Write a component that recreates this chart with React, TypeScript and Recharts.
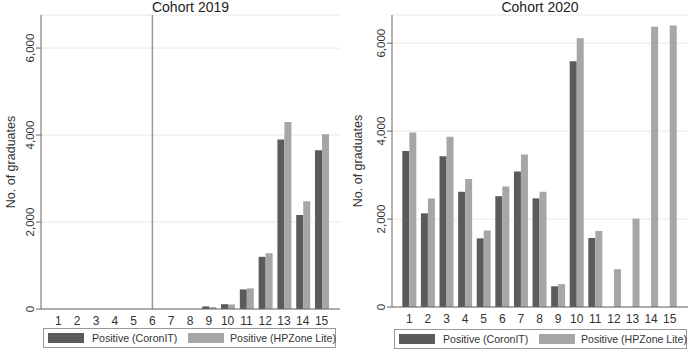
import { BarChart, Bar, XAxis, YAxis, CartesianGrid, ReferenceLine } from 'recharts'

const cats = ['1', '2', '3', '4', '5', '6', '7', '8', '9', '10', '11', '12', '13', '14', '15']

const coronit2019 = [0, 0, 0, 0, 0, 0, 0, 0, 60, 110, 450, 1200, 3900, 2160, 3650]
const hpzone2019 = [0, 0, 0, 0, 0, 0, 0, 0, 45, 105, 475, 1280, 4300, 2480, 4020]

const coronit2020 = [3550, 2130, 3430, 2620, 1560, 2520, 3080, 2470, 470, 5590, 1570, 0, 0, 0, 0]
const hpzone2020 = [3970, 2470, 3870, 2910, 1740, 2740, 3470, 2620, 520, 6110, 1730, 860, 2010, 6370, 6400]

const yTicks = [0, 2000, 4000, 6000]

const DARK = '#5b5b5b'
const LIGHT = '#a6a6a6'
const FONT = '"Liberation Sans", Arial, sans-serif'

const build = (a: number[], b: number[]) =>
  cats.map((c, i) => ({ cat: c, coronit: a[i], hpzone: b[i] }))

const fmt = (v: number) => v.toLocaleString('en-US')

function YTick({ x, y, payload }: any) {
  return (
    <text x={x} y={y} transform={`rotate(-90 ${x} ${y})`} textAnchor="middle"
      fontSize={11.5} fill="#333" fontFamily={FONT}>
      {fmt(payload.value)}
    </text>
  )
}

const yTitle = (tx: number) => ({ viewBox }: any) => {
  const cy = viewBox.y + viewBox.height / 2
  return (
    <text x={tx} y={cy} transform={`rotate(-90 ${tx} ${cy})`} textAnchor="middle"
      fontSize={12.5} fill="#333" fontFamily={FONT}>
      No. of graduates
    </text>
  )
}

interface PanelProps {
  title: string
  data: { cat: string; coronit: number; hpzone: number }[]
  left: number
  width: number
  margin: { top: number; right: number; left: number; bottom: number }
  yMax: number
  gap: string
  titleX: number
  refLine?: string
  legend: { box: [number, number]; top: number }
}

function Panel({ title, data, left, width, margin, yMax, gap, titleX, refLine, legend }: PanelProps) {
  const plotLeft = margin.left + 41
  const plotRight = width - margin.right
  const YTitle = yTitle(titleX)
  return (
    <div style={{ position: 'absolute', left, top: 0, width, height: 350 }}>
      <BarChart width={width} height={350} data={data} margin={margin}
        barCategoryGap={gap} barGap={0}>
        <CartesianGrid vertical={false} stroke="#e8e8e8" />
        <XAxis dataKey="cat" tickLine={false} tickSize={0} tickMargin={7} height={24}
          axisLine={{ stroke: '#666' }} interval={0}
          tick={{ fontSize: 12, fill: '#333', fontFamily: FONT }}
          padding={{ left: 8, right: 9 }} />
        <YAxis width={41} domain={[0, yMax]} ticks={yTicks} allowDataOverflow
          tickSize={5} tickMargin={2} tick={<YTick />}
          tickLine={{ stroke: '#666' }} axisLine={{ stroke: '#666' }}
          label={<YTitle />} />
        {refLine && <ReferenceLine x={refLine} stroke="#999" strokeWidth={1.5} />}
        <Bar dataKey="coronit" fill={DARK} isAnimationActive={false} />
        <Bar dataKey="hpzone" fill={LIGHT} isAnimationActive={false} />
      </BarChart>
      <div style={{
        position: 'absolute', left: (plotLeft + plotRight) / 2 - 100, width: 200, top: 0,
        textAlign: 'center', fontFamily: FONT, fontSize: 14, color: '#222', lineHeight: '15px',
      }}>{title}</div>
      <div style={{
        position: 'absolute', left: legend.box[0] - left, top: legend.top,
        width: legend.box[1] - legend.box[0], height: 20, border: '1px solid #999',
        boxSizing: 'border-box', fontFamily: FONT, fontSize: 10.6, color: '#333',
      }}>
        <div style={{ position: 'absolute', left: 4, top: 4, width: 36, height: 10, background: DARK }} />
        <div style={{ position: 'absolute', left: 48, top: 3, lineHeight: '13px', whiteSpace: 'nowrap' }}>Positive (CoronIT)</div>
        <div style={{ position: 'absolute', left: 144, top: 4, width: 36, height: 10, background: LIGHT }} />
        <div style={{ position: 'absolute', left: 186, top: 3, lineHeight: '13px', whiteSpace: 'nowrap' }}>Positive (HPZone Lite)</div>
      </div>
    </div>
  )
}

export default function App() {
  return (
    <div style={{ position: 'absolute', left: 0, top: 0, width: 691, height: 350, background: '#fff', overflow: 'hidden' }}>
      <Panel title="Cohort 2019" data={build(coronit2019, hpzone2019)} left={0} width={345}
        margin={{ top: 15, right: 5, left: 0, bottom: 17 }} yMax={6760} gap="15%" refLine="6"
        titleX={14.5} legend={{ box: [43, 336], top: 328 }} />
      <Panel title="Cohort 2020" data={build(coronit2020, hpzone2020)} left={345} width={346}
        margin={{ top: 15, right: 3, left: 6, bottom: 19 }} yMax={6640} gap="12.5%"
        titleX={16.5} legend={{ box: [394, 687], top: 329 }} />
    </div>
  )
}
